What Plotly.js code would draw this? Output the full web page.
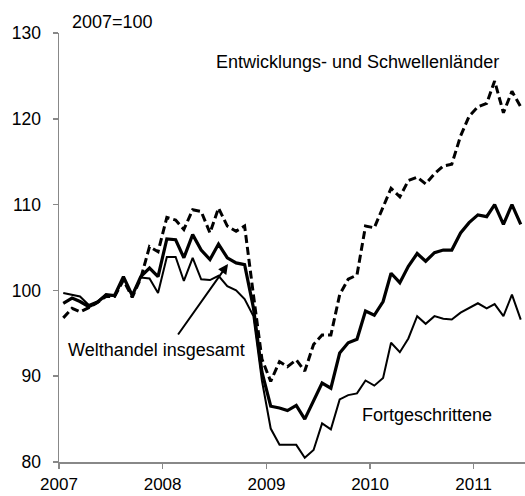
<!DOCTYPE html>
<html>
<head>
<meta charset="utf-8">
<script src="https://cdn.plot.ly/plotly-3.0.1.min.js"></script>
<style>html,body{margin:0;padding:0;background:#fff;}#chart{width:525px;height:496px;}</style>
</head>
<body>
<div id="chart"></div>
<script>
// Monthly index values, Jan 2007 – Jun 2011 (2007 = 100)
var startYear = 2007;
var welthandel = [98.5,99.1,98.7,98.1,98.6,99.5,99.4,101.6,99.4,101.6,102.6,101.6,
  106.0,105.9,103.8,106.5,104.7,103.6,105.4,103.8,103.2,103.0,98.0,90.5,
  86.5,86.3,86.0,86.6,85.0,87.1,89.2,88.6,92.7,93.9,94.3,97.6,
  97.1,98.7,102.0,100.9,102.8,104.3,103.4,104.4,104.7,104.7,106.7,107.9,
  108.8,108.6,110.0,107.7,110.0,107.7];
var fortgeschrittene = [99.7,99.5,99.3,98.3,98.7,99.5,99.3,101.4,99.5,101.5,101.4,99.7,
  103.9,103.9,101.1,103.8,101.3,101.2,101.7,100.5,100.0,99.0,97.0,89.5,
  83.9,82.0,82.0,82.0,80.5,81.4,84.5,83.8,87.3,87.8,88.0,89.5,
  88.9,89.8,93.9,92.8,94.4,97.0,96.1,97.0,96.7,96.6,97.4,97.9,
  98.5,97.9,98.4,97.0,99.5,96.6];
var schwellen = [96.8,97.9,97.5,98.0,98.6,99.3,99.3,101.2,99.2,101.4,105.1,104.5,
  108.5,108.2,107.1,109.4,109.2,106.7,109.6,107.5,106.9,107.5,99.5,92.0,
  89.4,91.7,91.1,91.9,90.6,93.7,94.8,94.8,99.5,101.3,101.8,107.5,
  107.3,109.7,111.9,110.9,112.8,113.2,112.4,113.6,114.5,114.7,118.0,120.3,
  121.4,121.8,124.4,120.7,123.2,121.4];
var yearTicks = ['2007','2008','2009','2010','2011'];
var yTicks = [80,90,100,110,120,130];

// month dates (mid-month)
var months = [];
for (var i = 0; i < welthandel.length; i++) {
  var y = startYear + Math.floor(i / 12);
  var m = (i % 12) + 1;
  months.push(y + '-' + (m < 10 ? '0' + m : m) + '-16');
}

var font = 'Liberation Sans, Arial, sans-serif';
var axisColor = '#888888';

var traces = [
  {x: months, y: schwellen, type: 'scatter', mode: 'lines', name: 'Entwicklungs- und Schwellenländer',
   line: {color: '#000', width: 3, dash: '8px,4px'}},
  {x: months, y: fortgeschrittene, type: 'scatter', mode: 'lines', name: 'Fortgeschrittene',
   line: {color: '#000', width: 2}},
  {x: months, y: welthandel, type: 'scatter', mode: 'lines', name: 'Welthandel insgesamt',
   line: {color: '#000', width: 3.2}}
];

var layout = {
  width: 525, height: 496,
  margin: {l: 59, r: 0, t: 33, b: 34, pad: 0},
  paper_bgcolor: '#fff', plot_bgcolor: '#fff',
  showlegend: false,
  font: {family: font, size: 18, color: '#000'},
  xaxis: {
    type: 'date',
    range: ['2007-01-01', '2011-07-01'],
    tickvals: yearTicks.map(function (t) { return t + '-01-01'; }),
    ticktext: yearTicks,
    ticks: 'outside', ticklen: 5, tickwidth: 1.5, tickcolor: axisColor,
    showline: true, linecolor: axisColor, linewidth: 1.5,
    showgrid: false, zeroline: false,
    tickfont: {family: font, size: 17, color: '#000'},
    ticklabelstandoff: 1
  },
  yaxis: {
    range: [80, 130],
    tickvals: yTicks,
    ticks: 'outside', ticklen: 5, tickwidth: 1.5, tickcolor: axisColor,
    showline: true, linecolor: axisColor, linewidth: 1.5,
    showgrid: false, zeroline: false,
    tickfont: {family: font, size: 17.5, color: '#000'},
    ticklabelstandoff: 8
  },
  annotations: [
    {text: '2007=100', xref: 'paper', yref: 'paper', x: 0.0236, y: 1.0247,
     xanchor: 'left', yanchor: 'middle', showarrow: false, font: {size: 18}},
    {text: 'Entwicklungs- und Schwellenländer', xref: 'paper', yref: 'paper', x: 0.9485, y: 0.933,
     xanchor: 'right', yanchor: 'middle', showarrow: false, font: {size: 18}},
    {text: 'Welthandel insgesamt', xref: 'paper', yref: 'paper', x: 0.4034, y: 0.2618,
     xanchor: 'right', yanchor: 'middle', showarrow: false, font: {size: 18}},
    {text: 'Fortgeschrittene', xref: 'paper', yref: 'paper', x: 0.646, y: 0.110,
     xanchor: 'left', yanchor: 'middle', showarrow: false, font: {size: 18}},
    {text: '', xref: 'paper', yref: 'paper', x: 0.3627, y: 0.4615,
     ax: -51, ay: 72, showarrow: true, arrowhead: 2, arrowsize: 1, arrowwidth: 2, arrowcolor: '#000'}
  ]
};

Plotly.newPlot('chart', traces, layout, {displayModeBar: false, staticPlot: true});
</script>
</body>
</html>
